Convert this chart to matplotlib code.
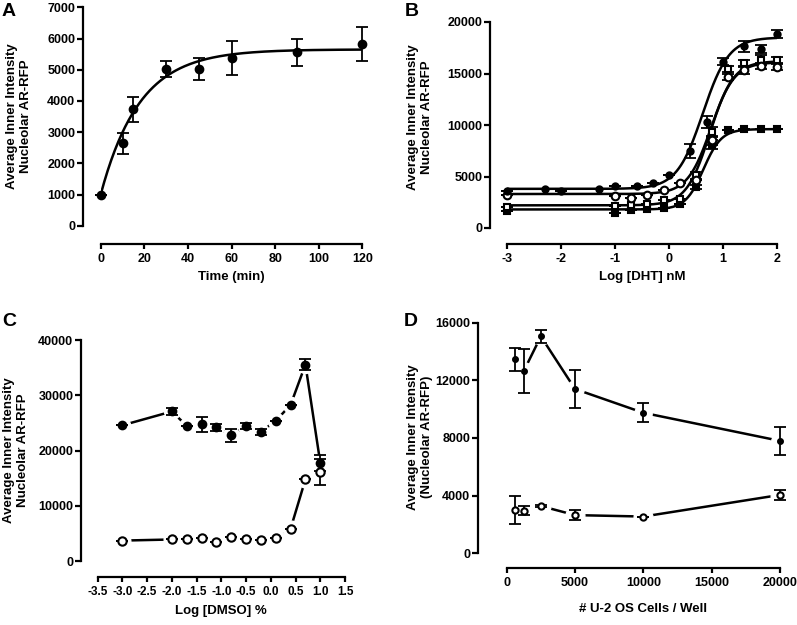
import numpy as np
import matplotlib.pyplot as plt

plt.rcParams['font.family'] = ['Liberation Sans', 'DejaVu Sans']
plt.rcParams['font.weight'] = 'bold'
plt.rcParams['axes.labelweight'] = 'bold'
plt.rcParams['axes.unicode_minus'] = False

# ---- panel A: time course ----
time_min = [0, 10, 15, 30, 45, 60, 90, 120]
a_mean = [1000, 2640, 3730, 5020, 5020, 5365, 5560, 5825]
a_err = [0, 330, 405, 250, 360, 550, 430, 555]
a_fit = [1000, 5650, 0.056]  # Y0, plateau, k

# ---- panel B: DHT dose response ----
b1_x = [-3, -2.3, -2, -1.3, -1, -0.6, -0.3, 0, 0.4, 0.7, 1.0, 1.4, 1.7, 2.0]
b1_y = [3600, 3750, 3600, 3750, 4050, 4050, 4350, 5100, 7450, 10300, 16150, 17650, 17350, 18850]
b1_e = [0, 0, 0, 0, 0, 0, 0, 0, 700, 550, 350, 550, 400, 400]
b_x = [-3, -1, -0.7, -0.4, -0.1, 0.2, 0.5, 0.8, 1.1, 1.4, 1.7, 2.0]
b2_y = [3250, 3150, 2950, 3250, 3650, 4350, 4700, 8500, 14700, 15300, 15700, 15600]
b2_e = [0, 0, 0, 0, 0, 0, 0, 400, 300, 300, 300, 300]
b3_y = [2000, 2100, 2200, 2300, 2700, 2800, 5100, 9300, 15400, 16000, 16300, 16300]
b3_e = [0, 0, 0, 0, 0, 0, 300, 500, 300, 300, 500, 300]
b4_y = [1650, 1500, 1750, 1800, 1900, 2300, 4000, 8100, 9550, 9650, 9650, 9650]
b4_e = [0, 0, 0, 0, 0, 0, 200, 400, 0, 0, 0, 0]
# bottom, top, logEC50, hill
b1_fit = [3800, 18500, 0.63, 1.8]
b2_fit = [3300, 16100, 0.78, 2.0]
b3_fit = [2200, 16200, 0.76, 2.0]
b4_fit = [1800, 9600, 0.64, 2.6]

# ---- panel C: DMSO ----
c_x = [-3, -2, -1.7, -1.4, -1.1, -0.8, -0.5, -0.2, 0.1, 0.4, 0.7, 1.0]
c_fill = [24600, 27100, 24500, 24750, 24200, 22800, 24500, 23400, 25400, 28300, 35600, 17800]
c_fill_e = [0, 700, 0, 1350, 650, 1200, 600, 550, 0, 0, 1000, 1500]
c_open = [3700, 3900, 3900, 4100, 3500, 4300, 3900, 3800, 4100, 5850, 14800, 16100]
c_open_e = [0, 0, 0, 0, 0, 0, 0, 0, 0, 0, 0, 2300]

# ---- panel D: cell density ----
d_x = [625, 1250, 2500, 5000, 10000, 20000]
d_fill = [13450, 12650, 15050, 11400, 9750, 7800]
d_fill_e = [780, 1550, 440, 1320, 670, 980]
d_open = [3000, 2950, 3280, 2650, 2550, 4050]
d_open_e = [1000, 300, 80, 350, 0, 350]

W, H = 797, 625
fig = plt.figure(figsize=(W / 100, H / 100), dpi=100)


def px_axes(x0, x1, ytop, ybot):
    return fig.add_axes([x0 / W, 1 - ybot / H, (x1 - x0) / W, (ybot - ytop) / H])


def prism(ax, xlim, ylim, xticks, yticks, lout, bout, xfmt='%g', xsize=9):
    for s in ['top', 'right']:
        ax.spines[s].set_visible(False)
    ax.spines['left'].set_position(('outward', lout * 0.72))
    ax.spines['bottom'].set_position(('outward', bout * 0.72))
    ax.spines['left'].set_bounds(ylim[0], ylim[1])
    ax.spines['bottom'].set_bounds(xlim[0], xlim[1])
    for s in ['left', 'bottom']:
        ax.spines[s].set_linewidth(1.6)
    ax.set_xlim(xlim)
    ax.set_ylim(ylim)
    ax.set_xticks(xticks)
    ax.set_yticks(yticks)
    ax.set_xticklabels([xfmt % t for t in xticks], fontweight='bold')
    ax.set_yticklabels(['%d' % t for t in yticks], fontweight='bold')
    ax.tick_params(axis='y', length=4, width=1.6, labelsize=9, pad=1.5)
    ax.tick_params(axis='x', length=3.5, width=1.6, labelsize=xsize, pad=3)
    ax.patch.set_visible(False)


def gapped(ax, x, y, e, marker, ms, mfc, gap=5, line=True):
    if line:
        ax.plot(x, y, '-', color='black', lw=1.8, zorder=1, clip_on=False)
        ax.plot(x, y, linestyle='none', marker=marker, ms=ms + gap, mfc='white',
                mec='white', zorder=2, clip_on=False)
    ax.errorbar(x, y, yerr=e, fmt='none', ecolor='black', elinewidth=1.3,
                capsize=4, capthick=1.3, zorder=3, clip_on=False)
    ax.plot(x, y, linestyle='none', marker=marker, ms=ms, mfc=mfc, mec='black',
            mew=1.5, zorder=4, clip_on=False)


def fig_text(x, y, s, **kw):
    fig.text(x / W, 1 - y / H, s, ha='center', va='center', fontweight='bold', **kw)


# A
ax = px_axes(100.7, 362.3, 7.3, 225.7)
prism(ax, (0, 120), (0, 7000), range(0, 121, 20), range(0, 7001, 1000), 17.7, 18.3)
tt = np.linspace(0, 120, 300)
y0, plat, k = a_fit
ax.plot(tt, y0 + (plat - y0) * (1 - np.exp(-k * tt)), color='black', lw=1.8, zorder=1)
gapped(ax, time_min, a_mean, a_err, 'o', 5.5, 'black', line=False)
ax.set_xlabel('Time (min)', fontsize=9.5, labelpad=4)

# B
ax = px_axes(507.3, 776.7, 22, 228)
prism(ax, (-3, 2), (0, 20000), range(-3, 3), range(0, 20001, 5000), 17.3, 16)
xx = np.linspace(-3, 2, 400)
for bot, top, ec, hill in [b1_fit, b2_fit, b3_fit, b4_fit]:
    ax.plot(xx, bot + (top - bot) / (1 + 10 ** ((ec - xx) * hill)), color='black',
            lw=1.8, zorder=1)
gapped(ax, b_x, b4_y, b4_e, 's', 4.2, 'black', line=False)
gapped(ax, b_x, b3_y, b3_e, 's', 5, 'white', line=False)
gapped(ax, b_x, b2_y, b2_e, 'o', 5.5, 'white', line=False)
gapped(ax, b1_x, b1_y, b1_e, 'o', 4.5, 'black', line=False)
ax.set_xlabel('Log [DHT] nM', fontsize=9.5, labelpad=4)

# C
ax = px_axes(97.7, 345, 340.3, 561)
prism(ax, (-3.5, 1.5), (0, 40000), np.arange(-3.5, 1.51, 0.5), range(0, 40001, 10000),
      16.7, 15.7, xfmt='%.1f', xsize=8.5)
gapped(ax, c_x, c_fill, c_fill_e, 'o', 5.5, 'black', gap=6)
gapped(ax, c_x, c_open, c_open_e, 'o', 6, 'white', gap=6)
ax.set_xlabel('Log [DMSO] %', fontsize=9.5, labelpad=5)

# D
ax = px_axes(506.7, 780, 322.7, 553.3)
prism(ax, (0, 20000), (0, 16000), range(0, 20001, 5000), range(0, 16001, 4000), 29, 15)
gapped(ax, d_x, d_fill, d_fill_e, 'o', 3.5, 'black', gap=9)
gapped(ax, d_x, d_open, d_open_e, 'o', 4.5, 'white', gap=9)
ax.set_xlabel('# U-2 OS Cells / Well', fontsize=9.5, labelpad=10)

# y labels and panel letters
fig_text(19, 116, 'Average Inner Intensity\nNucleolar AR-RFP', rotation=90, fontsize=9.5,
         linespacing=1.15)
fig_text(420, 117, 'Average Inner Intensity\nNucleolar AR-RFP', rotation=90, fontsize=9.5,
         linespacing=1.15)
fig_text(16, 450, 'Average Inner Intensity\nNucleolar AR-RFP', rotation=90, fontsize=9.5,
         linespacing=1.15)
fig_text(420, 437, 'Average Inner Intensity\n(Nucleolar AR-RFP)', rotation=90, fontsize=9.5,
         linespacing=1.15)
for lbl, x, y in [('A', 9, 11), ('B', 412, 12), ('C', 9, 322), ('D', 411, 322)]:
    fig_text(x, y, lbl, fontsize=14)

fig.savefig('out.png', dpi=100)
